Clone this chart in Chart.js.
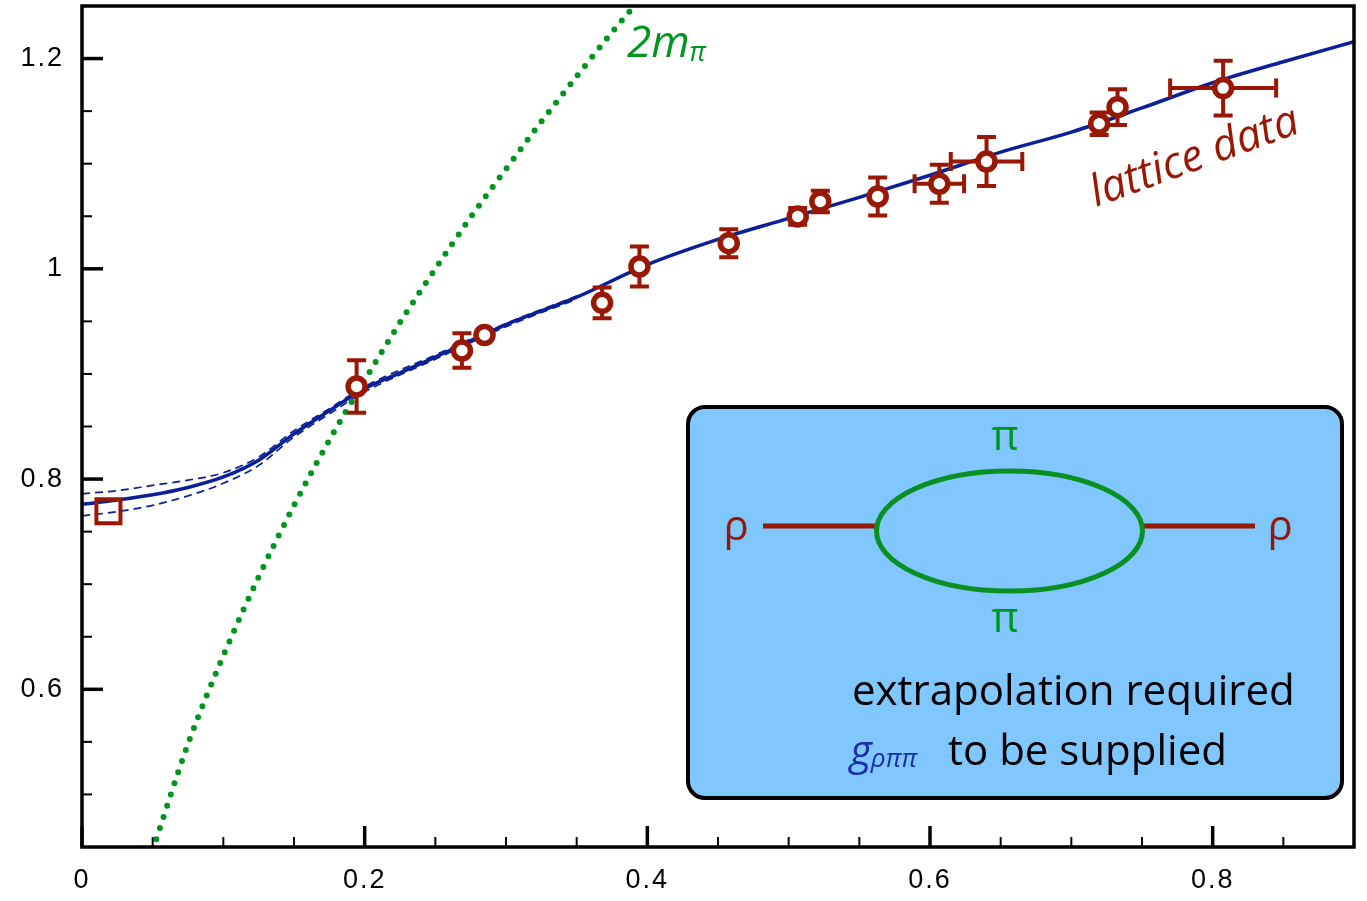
<!DOCTYPE html>
<html>
<head>
<meta charset="utf-8">
<script src="https://cdn.jsdelivr.net/npm/chart.js@4.4.1/dist/chart.umd.min.js"></script>
<style>
  html, body { margin: 0; padding: 0; background: #ffffff; }
  canvas { display: block; }
</style>
</head>
<body>
<canvas id="c" width="1367" height="901"></canvas>
<script>
// ---------------- data ----------------
// lattice data (x = m_pi^2, y = m_rho), with errors
const latticeX    = [0.1943, 0.2688, 0.2848, 0.3680, 0.3944, 0.4576, 0.5064, 0.5224, 0.5630, 0.6066, 0.6400, 0.7197, 0.7327, 0.8074];
const latticeY    = [0.888, 0.9223, 0.937, 0.9676, 1.0022, 1.0244, 1.0498, 1.064, 1.0688, 1.0809, 1.1021, 1.138, 1.1538, 1.1719];
const latticeYErr = [0.025, 0.0165, 0.003, 0.0146, 0.019, 0.0133, 0.008, 0.0102, 0.018, 0.018, 0.0233, 0.0106, 0.017, 0.026];
const latticeXErr = [0, 0, 0, 0, 0, 0, 0, 0, 0, 0.0175, 0.0253, 0, 0, 0.0375];

// physical point
const physX = [0.0187];
const physY = [0.7694];

// chiral extrapolation curve (solid) and its error band (dashed)
const fitX     = [0, 0.025, 0.05, 0.075, 0.1, 0.125, 0.15, 0.175, 0.2, 0.225, 0.25, 0.3, 0.35, 0.4, 0.45, 0.5, 0.55, 0.6, 0.65, 0.7, 0.75, 0.8, 0.85, 0.9];
const fitY     = [0.776, 0.780, 0.785, 0.792, 0.802, 0.818, 0.843, 0.865, 0.886, 0.901, 0.916, 0.947, 0.973, 1.004, 1.028, 1.048, 1.068, 1.089, 1.111, 1.130, 1.153, 1.177, 1.197, 1.216];
const bandX    = [0, 0.025, 0.05, 0.075, 0.1, 0.125, 0.15, 0.175, 0.2, 0.25, 0.3, 0.35];
const bandUpY  = [0.786, 0.789, 0.794, 0.799, 0.806, 0.821, 0.846, 0.867, 0.888, 0.918, 0.948, 0.974];
const bandLowY = [0.765, 0.769, 0.775, 0.784, 0.796, 0.813, 0.840, 0.862, 0.883, 0.914, 0.945, 0.971];

// two-pion threshold 2 m_pi
const twoPiX = [0.05, 0.075, 0.1, 0.125, 0.15, 0.175, 0.2, 0.225, 0.25, 0.275, 0.3, 0.325, 0.35, 0.375, 0.39];
const twoPiY = [0.447, 0.548, 0.632, 0.707, 0.775, 0.837, 0.894, 0.949, 1.000, 1.049, 1.095, 1.140, 1.183, 1.225, 1.249];

// axes
const xMin = 0, xMax = 0.9, yMin = 0.45, yMax = 1.25;
const minorStep = 0.05, majorStep = 0.2;

// ---------------- colours ----------------
const RED = '#981804';
const BLUE = '#0a1f98';
const GREEN = '#00961e';
const GBLUE = '#1a30a8';
const BOXFILL = '#7fc7fe';

const pts = (xs, ys) => xs.map((x, i) => ({ x: x, y: ys[i] }));
const isMajor = v => Math.abs(v / majorStep - Math.round(v / majorStep)) < 1e-6;

const tickSpacing = {
  id: 'tickSpacing',
  beforeDraw(chart) { chart.ctx.letterSpacing = '2px'; }
};

const errorBars = {
  id: 'errorBars',
  beforeDatasetDraw(chart, args) {
    if (args.index !== 0) return;
    const { ctx, scales: { x, y } } = chart;
    ctx.save();
    ctx.strokeStyle = RED;
    ctx.lineWidth = 4;
    ctx.lineCap = 'butt';
    const cap = 9.5;
    for (let i = 0; i < latticeX.length; i++) {
      const px = x.getPixelForValue(latticeX[i]);
      const py = y.getPixelForValue(latticeY[i]);
      const ye = latticeYErr[i], xe = latticeXErr[i];
      if (ye > 0) {
        const t = y.getPixelForValue(latticeY[i] + ye);
        const b = y.getPixelForValue(latticeY[i] - ye);
        ctx.beginPath();
        ctx.moveTo(px, t); ctx.lineTo(px, b);
        ctx.moveTo(px - cap, t); ctx.lineTo(px + cap, t);
        ctx.moveTo(px - cap, b); ctx.lineTo(px + cap, b);
        ctx.stroke();
      }
      if (xe > 0) {
        const l = x.getPixelForValue(latticeX[i] - xe);
        const r = x.getPixelForValue(latticeX[i] + xe);
        ctx.beginPath();
        ctx.moveTo(l, py); ctx.lineTo(r, py);
        ctx.moveTo(l, py - cap); ctx.lineTo(l, py + cap);
        ctx.moveTo(r, py - cap); ctx.lineTo(r, py + cap);
        ctx.stroke();
      }
    }
    ctx.restore();
  }
};

const frameAndTicks = {
  id: 'frameAndTicks',
  afterDraw(chart) {
    const { ctx, chartArea: a, scales: { x, y } } = chart;
    ctx.save();
    ctx.strokeStyle = '#000';
    ctx.lineCap = 'butt';
    // inward ticks
    x.ticks.forEach(t => {
      const px = x.getPixelForValue(t.value);
      const maj = isMajor(t.value);
      ctx.lineWidth = maj ? 3.5 : 2;
      ctx.beginPath();
      ctx.moveTo(px, a.bottom);
      ctx.lineTo(px, a.bottom - (maj ? 21 : 10));
      ctx.stroke();
    });
    y.ticks.forEach(t => {
      const py = y.getPixelForValue(t.value);
      const maj = isMajor(t.value);
      ctx.lineWidth = maj ? 3.5 : 2;
      ctx.beginPath();
      ctx.moveTo(a.left, py);
      ctx.lineTo(a.left + (maj ? 21 : 10), py);
      ctx.stroke();
    });
    ctx.lineWidth = 3.5;
    ctx.strokeRect(a.left, a.top, a.right - a.left, a.bottom - a.top);
    ctx.restore();
  }
};

const annotations = {
  id: 'annotations',
  afterDatasetsDraw(chart) {
    const { ctx } = chart;
    ctx.save();
    ctx.letterSpacing = '0px';
    ctx.textBaseline = 'alphabetic';

    // 2 m_pi label
    ctx.fillStyle = GREEN;
    ctx.textAlign = 'left';
    ctx.font = 'italic 44px "Open Sans"';
    ctx.fillText('2m', 627, 57);
    const w2m = ctx.measureText('2m').width;
    ctx.font = 'italic 27px "Open Sans"';
    ctx.fillText('π', 627 + w2m, 61);

    // lattice data label
    ctx.save();
    ctx.translate(1096, 207);
    ctx.rotate(-20 * Math.PI / 180);
    ctx.fillStyle = RED;
    ctx.font = 'italic 44px "Open Sans"';
    ctx.fillText('lattice data', 0, 0);
    ctx.restore();

    // inset box
    const bx = 688, by = 407, bw = 654, bh = 391, r = 17;
    ctx.beginPath();
    ctx.moveTo(bx + r, by);
    ctx.lineTo(bx + bw - r, by);
    ctx.arcTo(bx + bw, by, bx + bw, by + r, r);
    ctx.lineTo(bx + bw, by + bh - r);
    ctx.arcTo(bx + bw, by + bh, bx + bw - r, by + bh, r);
    ctx.lineTo(bx + r, by + bh);
    ctx.arcTo(bx, by + bh, bx, by + bh - r, r);
    ctx.lineTo(bx, by + r);
    ctx.arcTo(bx, by, bx + r, by, r);
    ctx.closePath();
    ctx.fillStyle = BOXFILL;
    ctx.fill();
    ctx.lineWidth = 4;
    ctx.strokeStyle = '#000';
    ctx.stroke();

    // rho propagators
    ctx.strokeStyle = RED;
    ctx.lineWidth = 5;
    ctx.beginPath();
    ctx.moveTo(763, 526); ctx.lineTo(876, 526);
    ctx.moveTo(1143, 526); ctx.lineTo(1255, 526);
    ctx.stroke();

    // pion loop
    ctx.strokeStyle = '#0a9020';
    ctx.lineWidth = 5;
    ctx.beginPath();
    ctx.ellipse(1009.5, 531, 133, 60, 0, 0, 2 * Math.PI);
    ctx.stroke();

    ctx.font = '42px "Open Sans"';
    ctx.textAlign = 'center';
    ctx.fillStyle = GREEN;
    ctx.fillText('π', 1005, 450);
    ctx.fillText('π', 1005, 632);
    ctx.fillStyle = RED;
    ctx.fillText('ρ', 736, 540);
    ctx.fillText('ρ', 1280, 540);

    ctx.textAlign = 'left';
    ctx.fillStyle = '#000';
    ctx.fillText('extrapolation required', 852, 705);
    ctx.fillText('to be supplied', 948, 765);

    ctx.fillStyle = GBLUE;
    ctx.font = 'italic 42px "Open Sans"';
    ctx.fillText('g', 850, 765);
    const wg = ctx.measureText('g').width;
    ctx.font = 'italic 26px "Open Sans"';
    ctx.fillText('ρππ', 850 + wg - 1, 767);

    ctx.restore();
  }
};

const zeroPad = s => { s.paddingTop = 0; s.paddingBottom = 0; s.paddingLeft = 0; s.paddingRight = 0; };

new Chart(document.getElementById('c'), {
  type: 'scatter',
  data: {
    datasets: [
      {
        label: 'lattice data',
        data: pts(latticeX, latticeY),
        pointRadius: 8.5, pointHoverRadius: 8.5, borderWidth: 5.5,
        borderColor: RED, backgroundColor: '#ffffff', showLine: false
      },
      {
        label: 'physical',
        data: pts(physX, physY),
        pointStyle: 'rect', pointRadius: 17, pointHoverRadius: 17, borderWidth: 4,
        borderColor: RED, backgroundColor: 'rgba(0,0,0,0)', showLine: false
      },
      {
        label: '2m_pi',
        data: pts(twoPiX, twoPiY),
        showLine: true, pointRadius: 0, borderColor: GREEN, borderWidth: 6,
        borderDash: [0, 11.7], borderCapStyle: 'round', cubicInterpolationMode: 'monotone', fill: false
      },
      {
        label: 'fit',
        data: pts(fitX, fitY),
        showLine: true, pointRadius: 0, borderColor: BLUE, borderWidth: 3.5,
        cubicInterpolationMode: 'monotone', fill: false
      },
      {
        label: 'band up',
        data: pts(bandX, bandUpY),
        showLine: true, pointRadius: 0, borderColor: BLUE, borderWidth: 1.7,
        borderDash: [8, 5], cubicInterpolationMode: 'monotone', fill: false
      },
      {
        label: 'band low',
        data: pts(bandX, bandLowY),
        showLine: true, pointRadius: 0, borderColor: BLUE, borderWidth: 1.7,
        borderDash: [8, 5], cubicInterpolationMode: 'monotone', fill: false
      }
    ]
  },
  options: {
    responsive: false,
    animation: false,
    devicePixelRatio: 1,
    events: [],
    layout: { autoPadding: false, padding: { top: 6, right: 13, left: 0, bottom: 0 } },
    plugins: { legend: { display: false }, tooltip: { enabled: false } },
    scales: {
      x: {
        type: 'linear', min: xMin, max: xMax,
        grid: { display: false, drawTicks: false },
        border: { display: false },
        ticks: {
          stepSize: minorStep, autoSkip: false, maxRotation: 0, padding: 17,
          color: '#000', font: { family: '"Liberation Sans", Arial, sans-serif', size: 27 },
          callback: v => isMajor(v) ? String(Math.round(v * 10) / 10) : ''
        },
        afterFit: s => { s.height = 54; zeroPad(s); }
      },
      y: {
        type: 'linear', min: yMin, max: yMax,
        grid: { display: false, drawTicks: false },
        border: { display: false },
        ticks: {
          stepSize: minorStep, autoSkip: false, padding: 18,
          color: '#000', font: { family: '"Liberation Sans", Arial, sans-serif', size: 27 },
          callback: v => isMajor(v) ? String(Math.round(v * 10) / 10) : ''
        },
        afterFit: s => { s.width = 82; zeroPad(s); }
      }
    }
  },
  plugins: [tickSpacing, errorBars, annotations, frameAndTicks]
});
</script>
</body>
</html>
